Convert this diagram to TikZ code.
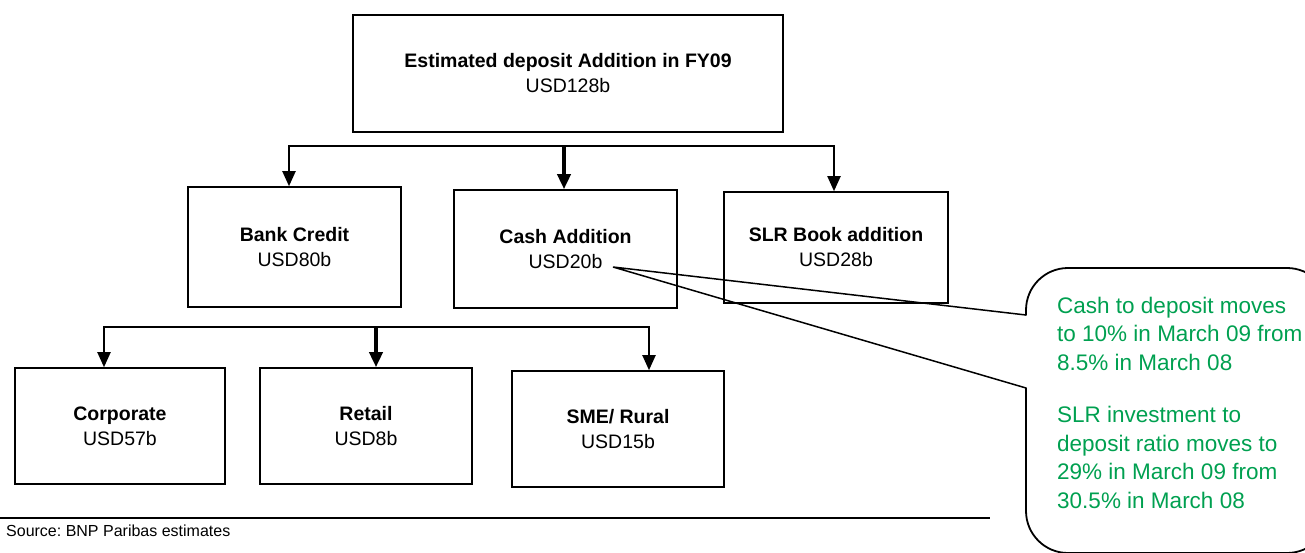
\documentclass[tikz,border=0pt]{standalone}
\usepackage{fontspec}
\setmainfont{Liberation Sans}
\usetikzlibrary{arrows.meta}
\definecolor{notegreen}{RGB}{0,160,80}
\frenchspacing
\begin{document}
\begin{tikzpicture}[x=1pt,y=-1pt,
  box/.style={draw, line width=1.6pt, inner sep=0pt, align=center,
    font=\fontsize{19.5}{25}\selectfont},
  arr/.style={line width=2pt, -{Triangle[length=15pt,width=13pt]}},
  arrthick/.style={line width=3.6pt, -{Triangle[length=15pt,width=13pt]}},
  callout/.style={line width=1.8pt, line cap=round, line join=round},
  notetext/.style={inner sep=0pt, align=left, text=notegreen,
    font=\fontsize{22.5}{28.7}\selectfont},
  srctext/.style={inner sep=0pt, font=\fontsize{16}{19}\selectfont}]
\useasboundingbox (0,0) rectangle (1305,552);
\clip (0,0) rectangle (1305,552);

% boxes
\node[box, minimum width=430pt, minimum height=117pt] (top) at (568,73.5)
  {\textbf{Estimated deposit Addition in FY09}\\USD128b};
\node[box, minimum width=213pt, minimum height=120pt] (bank) at (294.5,247)
  {\textbf{Bank Credit}\\USD80b};
\node[box, minimum width=223pt, minimum height=118pt] (cash) at (565.5,249)
  {\textbf{Cash Addition}\\USD20b};
\node[box, minimum width=224pt, minimum height=111pt] (slr) at (836,247.5)
  {\textbf{SLR Book addition}\\USD28b};
\node[box, minimum width=210pt, minimum height=116pt] (corp) at (120,426)
  {\textbf{Corporate}\\USD57b};
\node[box, minimum width=212pt, minimum height=116pt] (retail) at (366,426)
  {\textbf{Retail}\\USD8b};
\node[box, minimum width=212pt, minimum height=116pt] (sme) at (618,429)
  {\textbf{SME/ Rural}\\USD15b};

% upper distribution bar
\coordinate (tl) at (289,146);
\coordinate (tm) at (564,146);
\coordinate (tr) at (834,146);
\draw[arr] (tm) -| (tl |- bank.north);
\draw[arr] (tm) -| (tr |- slr.north);
\draw[arrthick] (tm) -- (tm |- cash.north);

% lower distribution bar
\coordinate (bl) at (104,327);
\coordinate (bm) at (376,327);
\coordinate (br) at (649,327);
\draw[arr] (bm) -| (bl |- corp.north);
\draw[arr] (bm) -| (br |- sme.north);
\draw[arrthick] (bm) -- (bm |- retail.north);

% callout
\coordinate (tip) at (613,267);
\coordinate (nu) at (1026,315);
\coordinate (nd) at (1026,388);
\draw[callout, rounded corners=42pt] (nd) -- (1026,553) -- (1329,553)
  -- (1329,268) -- (1026,268) -- (nu);
\draw[line width=1.5pt, line join=miter] (nu) -- (tip) -- (nd);
\node[notetext, anchor=north west] (note) at (1057,296.6)
  {Cash to deposit moves\\to 10\% in March 09 from\\8.5\% in March 08\\[23.3pt]
   SLR investment to\\deposit ratio moves to\\29\% in March 09 from\\30.5\% in March 08};

% source
\coordinate (rl) at (0,518);
\coordinate (rr) at (990,518);
\draw[line width=1.6pt] (rl) -- (rr);
\node[srctext, anchor=base west] (src) at (6,536) {Source: BNP Paribas estimates};
\end{tikzpicture}
\end{document}
